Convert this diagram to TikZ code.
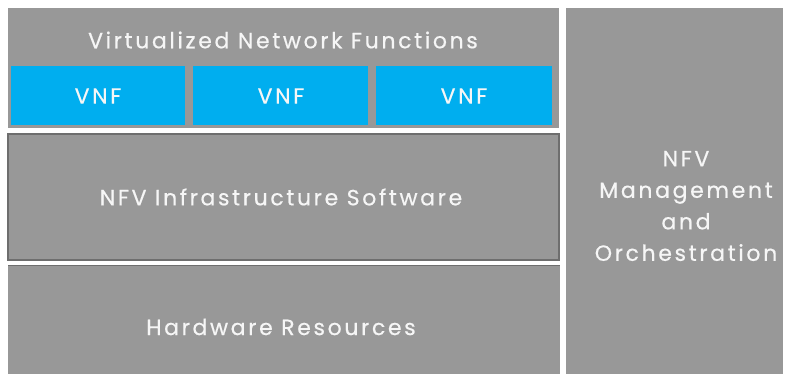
\documentclass[tikz,border=0pt]{standalone}
\usepackage{fontspec}
\setmainfont{Poppins}[LetterSpace=12, FakeBold=0.5]
\definecolor{boxgray}{RGB}{152,152,152}
\definecolor{edgegray}{RGB}{110,110,110}
\definecolor{vnfblue}{RGB}{0,174,239}
\definecolor{txtwhite}{RGB}{246,246,246}
\tikzset{
  layer/.style={fill=boxgray, draw=none},
  vnfbox/.style={fill=vnfblue, draw=none},
  lbl/.style={text=txtwhite, font=\fontsize{22}{26}\selectfont, inner sep=0pt},
}
\begin{document}
\begin{tikzpicture}[x=1pt,y=-1pt]
\useasboundingbox[fill=white] (0,0) rectangle (791,374);
% top block
\path[layer] (8,8) rectangle (559,128);
\path[vnfbox] (11,66) rectangle (185,125);
\path[vnfbox] (193,66) rectangle (368,125);
\path[vnfbox] (376,66) rectangle (552,125);
% middle block
\path[fill=boxgray, draw=edgegray, line width=1.2pt] (8,134) rectangle (559,260);
% bottom block
\path[layer] (8,265) rectangle (560,374);
\draw[edgegray, line width=1pt] (8,265.5) -- (560,265.5);
% right column
\path[layer] (566,8) rectangle (783,374);
% labels
\node[lbl] (vnfs) at (283,40) {Virtualized Network Functions};
\node[lbl] (v1) at (98,96) {VNF};
\node[lbl] (v2) at (281,96) {VNF};
\node[lbl] (v3) at (464,96) {VNF};
\node[lbl] (nfvi) at (281,197) {NFV Infrastructure Software};
\node[lbl] (hw) at (281,327) {Hardware Resources};
\node[lbl, align=center, font=\fontsize{22}{31.5}\selectfont] (mano) at (686,206) {NFV\\Management\\and\\Orchestration};
\end{tikzpicture}
\end{document}
